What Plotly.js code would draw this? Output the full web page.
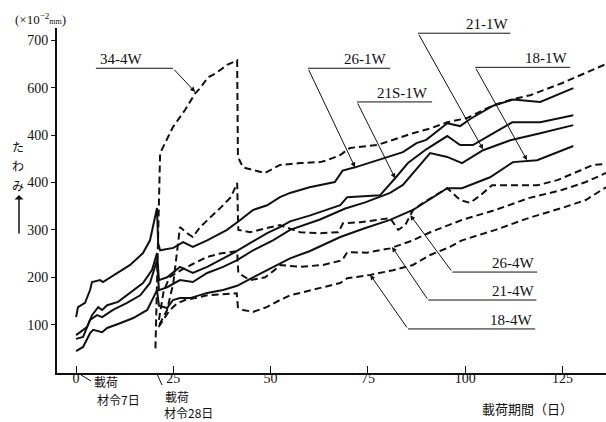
<!DOCTYPE html>
<html><head><meta charset="utf-8">
<script src="https://cdn.plot.ly/plotly-3.0.1.min.js"></script>
<style>html,body{margin:0;padding:0;background:#fff}#chart{width:606px;height:422px}</style>
</head><body><div id="chart"></div>
<script>
// ---------- data ----------
const days_26_1W = [0,0.5,2.3,3.6,4.1,6.2,6.9,10.5,13.9,17.2,19.0,20.8,21.1,21.6,25.0,27.5,30.0,33.7,37.0,38.8,42.2,45.5,49.1,52.4,55.0,60.0,66.5,68.5,71.7,77.4,84.0,87.5,90.0,95.4,98.7,101.3,107.2,112.3,119.3,127.8];
const vals_26_1W = [116,137,146,173,190,194,190,209,226,251,278,346,272,257,262,274,264,278,293,300,321,342,352,369,378,390,401,425,432,447,464,483,490,525,519,534,562,575,570,599];

const days_21S_1W = [0,1.0,2.8,4.1,5.7,6.7,8.0,10.8,13.9,17.2,19.5,20.8,21.3,23.4,26.7,28.3,30.0,33.7,37.0,40.4,44.7,49.1,52.4,55.0,60.0,67.9,69.7,78.1,82.0,85.3,90.0,95.4,98.7,102.0,106.4,112.1,119.3,127.8];
const vals_21S_1W = [78,84,95,120,137,131,141,148,167,188,215,251,194,200,222,215,209,222,236,251,272,293,306,318,330,352,369,373,409,441,470,498,479,479,500,527,527,542];

const days_21_1W = [0,1.8,3.6,5.4,6.7,9.5,13.1,16.5,19.0,20.8,21.3,23.4,26.7,30.0,33.7,37.8,41.4,45.5,50.6,55.0,62.7,69.2,74.3,80.7,84.0,87.1,91.0,95.4,99.2,104.6,111.6,119.3,127.8];
const vals_21_1W = [70,74,110,120,116,131,146,162,188,236,173,179,194,190,209,222,236,257,278,300,322,345,358,378,395,425,462,454,441,468,489,504,521];

const days_18_1W = [0,1.8,3.6,4.4,6.7,8.0,11.3,14.7,18.3,20.3,20.8,21.3,23.4,24.9,26.7,29.3,33.7,37.8,41.4,45.5,50.6,55.0,60.0,67.9,74.0,80.7,86.6,95.4,99.2,106.4,112.3,118.5,127.8];
const vals_18_1W = [44,53,82,89,84,93,103,114,131,167,173,140,135,152,156,156,167,173,182,200,222,240,255,285,303,321,342,388,388,411,443,447,477];

const days_34_4W = [20.4,21.6,24.9,28.0,30.6,31.9,33.9,35.2,37.0,38.8,41.4,41.6,42.9,48.6,52.4,57.6,62.7,64.5,67.9,70.4,77.4,86.6,91.0,95.4,100.5,107.2,112.3,116.7,125.0,136.2];
const vals_34_4W = [50,462,517,553,588,599,622,627,637,648,658,454,432,420,437,441,443,447,458,473,479,504,514,527,536,563,576,584,610,650];

const days_26_4W = [21.4,23.4,25.0,26.7,28.5,30.0,31.9,34.7,37.3,39.8,41.4,41.7,44.7,49.0,52.4,57.6,62.7,67.4,68.6,73.0,78.0,80.7,82.8,84.6,86.6,89.2,95.4,98.7,101.3,103.9,106.9,112.3,118.5,123.7,128.8,132.9,136.2];
const vals_26_4W = [100,131,188,306,293,285,306,327,348,369,399,300,295,304,310,295,293,295,314,316,321,325,300,310,342,357,388,363,357,373,394,394,394,405,422,437,439];

const days_21_4W = [21.3,22.5,24.0,27.0,30.0,33.7,37.0,40.0,41.4,41.7,44.7,48.6,51.0,52.4,57.6,63.5,68.4,69.7,74.8,80.7,86.6,91.0,99.2,107.8,116.3,124.8,131.0,136.2];
const vals_21_4W = [110,170,200,215,228,243,250,253,255,209,194,200,215,226,222,226,236,253,252,261,278,295,321,342,367,384,401,420];

const days_18_4W = [21.2,22.5,24.0,26.0,28.0,30.6,33.7,37.0,40.0,41.3,41.6,42.9,45.5,49.0,52.4,55.0,57.6,63.5,67.9,69.7,75.6,81.5,86.6,91.0,96.1,99.2,107.8,116.3,124.8,131.0,136.2];
const vals_18_4W = [95,110,130,145,152,156,162,164,166,166,137,131,127,137,152,162,167,179,188,198,205,215,226,247,264,278,300,325,346,363,390];

const seriesNames = ['26-1W','21S-1W','21-1W','18-1W','34-4W','26-4W','21-4W','18-4W'];
const seriesDays = [days_26_1W,days_21S_1W,days_21_1W,days_18_1W,days_34_4W,days_26_4W,days_21_4W,days_18_4W];
const seriesVals = [vals_26_1W,vals_21S_1W,vals_21_1W,vals_18_1W,vals_34_4W,vals_26_4W,vals_21_4W,vals_18_4W];

const xTickVals = [0,25,50,75,100,125];
const yTickVals = [100,200,300,400,500,600,700];
const yTickText = ['100','200','300','400','400','600','700'];

// ---------- styling / layout ----------
const INK = '#111';
const traces = seriesNames.map((n,i)=>({
  type:'scatter', mode:'lines', name:n,
  x: seriesDays[i], y: seriesVals[i],
  line:{color:INK, width:2, dash: n.endsWith('4W') ? '7px,4px' : 'solid'},
  showlegend:false, hoverinfo:'skip'
}));

// label leader geometry (layout only): underline from u0 to u1 at uy, diagonal from (ut,uy) to target
const leaders = [
  {name:'34-4W', u0:5.1, u1:24.9, uy:641, ut:24.9, tx:30.6, ty:591, txt:5.6, anchor:'left'},
  {name:'26-1W', u0:59.6, u1:80.7, uy:641, ut:59.6, tx:71.7, ty:432, txt:80.2, anchor:'right'},
  {name:'21S-1W', u0:72.2, u1:91.5, uy:570, ut:72.2, tx:82.0, ty:409, txt:91.0, anchor:'right'},
  {name:'21-1W', u0:87.9, u1:111.6, uy:715, ut:87.9, tx:104.6, ty:470, txt:111.4, anchor:'right'},
  {name:'18-1W', u0:102.6, u1:127.0, uy:643, ut:102.6, tx:115.9, ty:447, txt:126.8, anchor:'right'},
  {name:'26-4W', u0:96.7, u1:118.5, uy:211, ut:96.7, tx:85.9, ty:331, txt:118.3, anchor:'right'},
  {name:'21-4W', u0:90.5, u1:118.3, uy:152, ut:90.5, tx:81.2, ty:264, txt:118.1, anchor:'right'},
  {name:'18-4W', u0:85.3, u1:118.0, uy:91, ut:85.3, tx:75.6, ty:205, txt:117.8, anchor:'right'}
];

const shapes = [];
const annotations = [];
const serif = 'Liberation Serif, DejaVu Serif, serif';
const cjk = 'Noto Sans CJK JP, sans-serif';

leaders.forEach(l=>{
  shapes.push({type:'line', xref:'x', yref:'y', x0:l.u0, x1:l.u1, y0:l.uy, y1:l.uy, line:{color:INK,width:1}});
  annotations.push({xref:'x', yref:'y', x:l.tx, y:l.ty, axref:'x', ayref:'y', ax:l.ut, ay:l.uy,
    text:'', showarrow:true, arrowhead:2, arrowsize:1, arrowwidth:1, arrowcolor:INK, standoff:0});
  annotations.push({xref:'x', yref:'y', x:l.txt, y:l.uy, xanchor:l.anchor, yanchor:'bottom',
    text:l.name, showarrow:false, font:{family:serif, size:15, color:INK}, yshift:-1});
});

const W=606, H=422, ML=57, MR=0, MT=28, MB=49;
const pw = W-ML-MR, ph = H-MT-MB;
const px2x = p => (p-ML)/pw;
const py2y = p => (H-MB-p)/ph;

// unit label
annotations.push({xref:'paper', yref:'paper', x:px2x(40), y:py2y(19), xanchor:'center', yanchor:'middle',
  text:'(×10<sup>−2</sup><span style="font-size:8px">mm</span>)', showarrow:false, font:{family:serif,size:13,color:INK}});
// vertical y title
[['た',146],['わ',165],['み',185]].forEach(c=>{
  annotations.push({xref:'paper', yref:'paper', x:px2x(18), y:py2y(c[1]), xanchor:'center', yanchor:'middle',
    text:c[0], showarrow:false, font:{family:cjk,size:12,color:INK}});
});
annotations.push({xref:'paper', yref:'paper', x:px2x(19), y:py2y(195), ax:0, ay:40, text:'', showarrow:true,
  arrowhead:1, arrowsize:1, arrowwidth:1.5, arrowcolor:INK, standoff:0});

// loading notes below the axis
shapes.push({type:'line', xref:'paper', yref:'paper', x0:px2x(81), y0:py2y(375), x1:px2x(91), y1:py2y(381), line:{color:INK,width:1}});
shapes.push({type:'line', xref:'paper', yref:'paper', x0:px2x(157), y0:py2y(374), x1:px2x(162), y1:py2y(385), line:{color:INK,width:1}});
[['載荷',92,381],['材令7日',95,399],['載荷',163,396],['材令28日',162,412.5]].forEach(t=>{
  annotations.push({xref:'paper', yref:'paper', x:px2x(t[1]), y:py2y(t[2]), xanchor:'left', yanchor:'middle',
    text:t[0], showarrow:false, font:{family:cjk,size:12,color:INK}});
});
annotations.push({xref:'paper', yref:'paper', x:px2x(527), y:py2y(408), xanchor:'center', yanchor:'middle',
  text:'載荷期間（日）', showarrow:false, font:{family:cjk,size:13,color:INK}});

const layout = {
  width:W, height:H, margin:{l:ML, r:MR, t:MT, b:MB, pad:0},
  paper_bgcolor:'#fff', plot_bgcolor:'#fff', showlegend:false,
  xaxis:{range:[-4.9,136.2], tickvals:xTickVals, ticktext:xTickVals.map(String), ticks:'inside', ticklen:7,
    tickcolor:INK, showline:true, linecolor:INK, linewidth:2, showgrid:false, zeroline:false,
    ticklabelstandoff:-9,
    tickfont:{family:serif,size:14,color:INK}},
  yaxis:{range:[-2,726], tickvals:yTickVals, ticktext:yTickText, ticks:'outside', ticklen:4,
    tickcolor:INK, showline:true, linecolor:INK, linewidth:2, showgrid:false, zeroline:false,
    tickfont:{family:serif,size:14,color:INK}},
  shapes:shapes, annotations:annotations
};
Plotly.newPlot('chart', traces, layout, {staticPlot:true, displayModeBar:false});
</script></body></html>
